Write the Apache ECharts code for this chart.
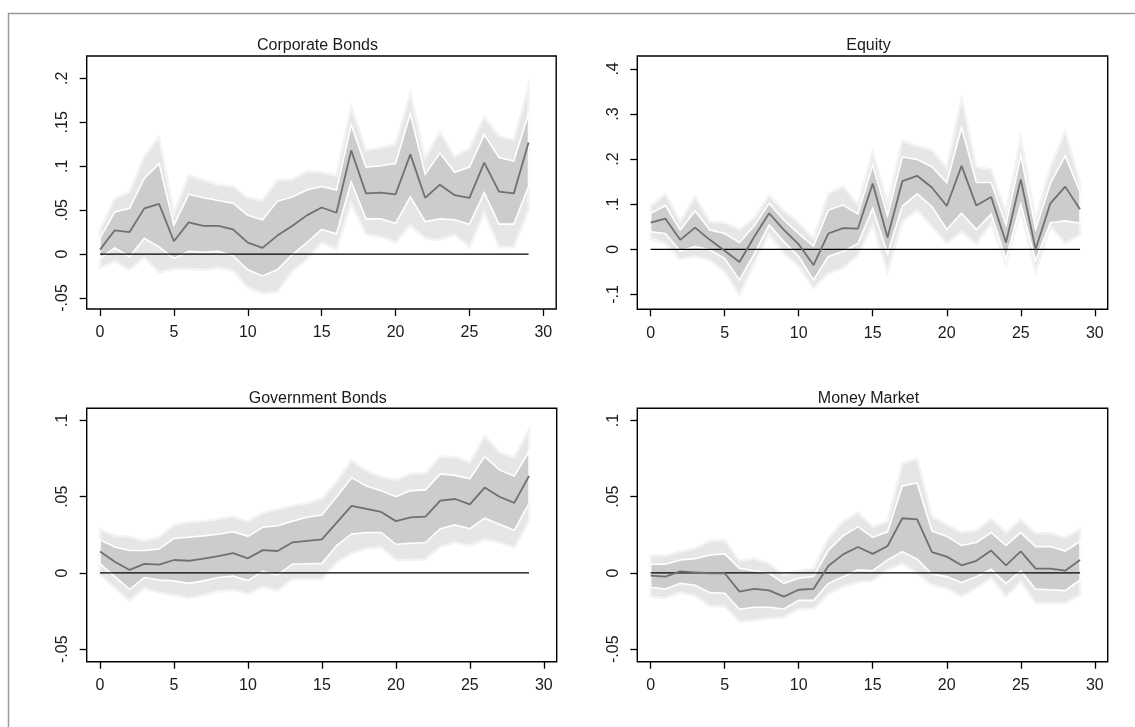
<!DOCTYPE html>
<html>
<head>
<meta charset="utf-8">
<title>Impulse responses by asset class</title>
<script src="https://cdn.jsdelivr.net/npm/echarts@6/dist/echarts.min.js"></script>
<style>
  html, body { margin: 0; padding: 0; background: #fff; }
  #chart { width: 1135px; height: 727px; }
</style>
</head>
<body>
<div id="chart"></div>
<script>
// Horizon (periods after the shock)
const horizon = [0,1,2,3,4,5,6,7,8,9,10,11,12,13,14,15,16,17,18,19,20,21,22,23,24,25,26,27,28,29];
const xTicks = [0, 5, 10, 15, 20, 25, 30];

// Corporate Bonds: point estimate, inner band (lo/hi), outer band (lo/hi)
const corpMean = [0.005,0.027,0.025,0.052,0.057,0.0145,0.036,0.032,0.032,0.028,0.013,0.007,0.021,0.032,0.044,0.053,0.047,0.118,0.069,0.070,0.068,0.1135,0.064,0.079,0.067,0.064,0.104,0.071,0.069,0.127];
const corpInHi = [0.018,0.048,0.052,0.086,0.103,0.033,0.068,0.064,0.061,0.058,0.044,0.039,0.060,0.065,0.073,0.077,0.073,0.147,0.099,0.1006,0.103,0.160,0.091,0.115,0.093,0.099,0.136,0.110,0.106,0.160];
const corpInLo = [-0.005,0.007,-0.003,0.018,0.008,-0.005,0.003,0.002,0.003,-0.002,-0.018,-0.025,-0.018,-0.001,0.013,0.028,0.023,0.082,0.040,0.040,0.035,0.065,0.037,0.040,0.039,0.034,0.070,0.034,0.034,0.077];
const corpOutHi = [0.027,0.063,0.071,0.111,0.133,0.046,0.090,0.084,0.079,0.077,0.064,0.061,0.084,0.085,0.094,0.093,0.089,0.168,0.118,0.121,0.125,0.183,0.109,0.139,0.111,0.120,0.156,0.134,0.130,0.191];
const corpOutLo = [-0.016,-0.008,-0.018,-0.004,-0.021,-0.017,-0.017,-0.018,-0.016,-0.019,-0.038,-0.045,-0.043,-0.020,-0.006,0.013,0.006,0.058,0.022,0.020,0.013,0.033,0.018,0.016,0.022,0.008,0.047,0.008,0.008,0.050];
const corpTicks = [-0.05, 0, 0.05, 0.1, 0.15, 0.2];

// Equity
const eqMean = [0.059,0.068,0.021,0.048,0.021,-0.003,-0.028,0.028,0.080,0.043,0.011,-0.035,0.035,0.047,0.046,0.146,0.026,0.151,0.163,0.137,0.096,0.185,0.097,0.116,0.015,0.155,0.000,0.102,0.139,0.089];
const eqInHi = [0.080,0.097,0.043,0.085,0.043,0.035,0.015,0.052,0.102,0.065,0.035,0.007,0.087,0.098,0.078,0.187,0.075,0.205,0.199,0.183,0.148,0.270,0.148,0.148,0.054,0.209,0.045,0.146,0.207,0.128];
const eqInLo = [0.039,0.035,-0.004,0.006,-0.001,-0.020,-0.068,-0.010,0.054,0.017,-0.016,-0.068,-0.016,-0.005,0.013,0.091,-0.010,0.096,0.123,0.095,0.044,0.080,0.044,0.078,-0.022,0.100,-0.025,0.059,0.063,0.058];
const eqOutHi = [0.096,0.123,0.061,0.117,0.061,0.059,0.044,0.069,0.120,0.086,0.058,0.024,0.123,0.140,0.098,0.217,0.100,0.241,0.229,0.220,0.180,0.335,0.183,0.177,0.080,0.248,0.065,0.183,0.261,0.146];
const eqOutLo = [0.024,0.013,-0.022,-0.016,-0.024,-0.050,-0.101,-0.031,0.033,-0.009,-0.038,-0.086,-0.053,-0.042,-0.013,0.054,-0.050,0.061,0.087,0.050,0.013,0.039,0.012,0.058,-0.033,0.087,-0.050,0.050,0.013,0.032];
const eqTicks = [-0.1, 0, 0.1, 0.2, 0.3, 0.4];

// Government Bonds
const govMean = [0.014,0.0074,0.002,0.006,0.0055,0.0085,0.008,0.0094,0.011,0.013,0.0096,0.015,0.0144,0.020,0.021,0.022,0.033,0.044,0.042,0.040,0.034,0.0365,0.037,0.0475,0.0485,0.045,0.056,0.050,0.046,0.0636];
const govInHi = [0.0217,0.017,0.0147,0.0147,0.0157,0.0227,0.0234,0.0243,0.0254,0.027,0.024,0.030,0.031,0.034,0.0365,0.038,0.050,0.0625,0.057,0.054,0.050,0.054,0.0545,0.065,0.064,0.0617,0.0763,0.0676,0.0636,0.0796];
const govInLo = [0.006,-0.0024,-0.0107,-0.003,-0.0046,-0.0052,-0.0068,-0.0052,-0.003,-0.002,-0.005,0.001,-0.0013,0.0057,0.006,0.0063,0.018,0.0256,0.0265,0.0265,0.0188,0.0195,0.020,0.029,0.0315,0.029,0.036,0.032,0.028,0.0457];
const govOutHi = [0.0287,0.0243,0.0238,0.0212,0.0234,0.0315,0.0335,0.034,0.0354,0.037,0.0337,0.0396,0.0418,0.044,0.0457,0.0488,0.060,0.074,0.067,0.063,0.061,0.065,0.0654,0.0763,0.076,0.0726,0.090,0.079,0.0757,0.094];
const govOutLo = [-0.0013,-0.0096,-0.0184,-0.010,-0.0129,-0.0144,-0.0166,-0.0144,-0.0122,-0.0112,-0.0138,-0.009,-0.0116,-0.0039,-0.0039,-0.004,0.007,0.0129,0.016,0.0168,0.0085,0.0085,0.009,0.0173,0.020,0.018,0.0217,0.020,0.0168,0.034];
const govTicks = [-0.05, 0, 0.05, 0.1];

// Money Market
const mmMean = [-0.0017,-0.0024,0.001,0.0004,-0.0002,-0.0002,-0.0122,-0.0105,-0.0114,-0.0155,-0.011,-0.0105,0.0046,0.0122,0.017,0.0125,0.0177,0.0359,0.0352,0.0136,0.0107,0.005,0.008,0.0147,0.005,0.0142,0.0028,0.0028,0.0015,0.0085];
const mmInHi = [0.0057,0.0057,0.0085,0.0094,0.0118,0.0125,0.003,0.0015,-0.0002,-0.0068,-0.0035,-0.0024,0.0147,0.0243,0.0304,0.0234,0.027,0.057,0.059,0.0275,0.024,0.018,0.020,0.0265,0.018,0.0265,0.0173,0.0173,0.0144,0.0206];
const mmInLo = [-0.0094,-0.0105,-0.0068,-0.008,-0.0129,-0.0133,-0.0238,-0.0225,-0.0225,-0.0236,-0.018,-0.018,-0.0068,-0.0024,0.002,0.0015,0.0085,0.014,0.009,-0.0007,-0.0024,-0.0063,-0.0024,0.0024,-0.0068,0.0013,-0.0105,-0.011,-0.0116,-0.0046];
const mmOutHi = [0.0114,0.0114,0.014,0.016,0.021,0.0217,0.0079,0.0096,0.0063,-0.0013,0.0013,0.003,0.0227,0.0337,0.0396,0.0304,0.0337,0.072,0.075,0.037,0.0315,0.0265,0.028,0.0356,0.0265,0.035,0.026,0.026,0.023,0.029];
const mmOutLo = [-0.0155,-0.0166,-0.0127,-0.0151,-0.0217,-0.022,-0.032,-0.031,-0.0297,-0.029,-0.0236,-0.0236,-0.0138,-0.009,-0.0061,-0.0052,0.002,0.0063,-0.0002,-0.0079,-0.010,-0.0155,-0.0096,-0.0035,-0.0155,-0.0057,-0.0195,-0.0199,-0.0199,-0.0144];
const mmTicks = [-0.05, 0, 0.05, 0.1];

const panelTitles = ['Corporate Bonds', 'Equity', 'Government Bonds', 'Money Market'];

const panels = [
  { title: panelTitles[0], mean: corpMean, inHi: corpInHi, inLo: corpInLo, outHi: corpOutHi, outLo: corpOutLo, ticks: corpTicks, yMin: -0.0626, yMax: 0.2255 },
  { title: panelTitles[1], mean: eqMean,   inHi: eqInHi,   inLo: eqInLo,   outHi: eqOutHi,   outLo: eqOutLo,   ticks: eqTicks,   yMin: -0.133,  yMax: 0.4286 },
  { title: panelTitles[2], mean: govMean,  inHi: govInHi,  inLo: govInLo,  outHi: govOutHi,  outLo: govOutLo,  ticks: govTicks,  yMin: -0.0582, yMax: 0.108 },
  { title: panelTitles[3], mean: mmMean,   inHi: mmInHi,   inLo: mmInLo,   outHi: mmOutHi,   outLo: mmOutLo,   ticks: mmTicks,   yMin: -0.0582, yMax: 0.108 }
];

// Plot-region boxes (pixels)
const boxes = [
  { left: 86.7,  top: 56,    width: 469.5, height: 253 },
  { left: 637.3, top: 56,    width: 470.4, height: 253.3 },
  { left: 86.7,  top: 408.3, width: 470,   height: 253.4 },
  { left: 637.3, top: 408.3, width: 470.4, height: 253.4 }
];

const FONT = '"Liberation Sans", Arial, Helvetica, sans-serif';
const TEXT = '#1a1a1a';

function fmtTick(v) {
  if (v === 0) return '0';
  let s = String(+v.toFixed(4));
  return s.replace(/^(-?)0\./, '$1.');
}

// Band polygon between two bound arrays, drawn through the axis scales
function bandSeries(idx, hi, lo, fill, stroke, width) {
  return {
    type: 'custom',
    xAxisIndex: idx, yAxisIndex: idx,
    clip: true,
    silent: true,
    data: [[horizon[0], lo[0]]],
    renderItem: function (params, api) {
      const pts = [];
      for (let i = 0; i < horizon.length; i++) pts.push(api.coord([horizon[i], hi[i]]));
      for (let i = horizon.length - 1; i >= 0; i--) pts.push(api.coord([horizon[i], lo[i]]));
      return {
        type: 'polygon',
        shape: { points: pts },
        style: { fill: fill, stroke: stroke, lineWidth: width, lineJoin: 'miter', miterLimit: 10 }
      };
    },
    z: 2
  };
}

const grid = [], xAxis = [], yAxis = [], series = [], title = [];

panels.forEach(function (p, k) {
  const b = boxes[k];
  grid.push({
    left: b.left, top: b.top, width: b.width, height: b.height,
    show: true, borderColor: '#000', borderWidth: 1.4, backgroundColor: '#fff',
    containLabel: false
  });
  title.push({
    text: p.title,
    left: b.left + b.width / 2 - 4,
    top: b.top - 18,
    textAlign: 'center',
    padding: 0,
    textStyle: { fontFamily: FONT, fontSize: 16, fontWeight: 'normal', color: TEXT }
  });
  xAxis.push({
    type: 'value', gridIndex: k,
    min: -0.9, max: 30.87,
    position: 'bottom',
    axisLine: { show: false, onZero: false },
    splitLine: { show: false },
    axisTick: { show: true, inside: false, customValues: xTicks, length: 7, lineStyle: { color: '#000', width: 1.3 } },
    axisLabel: { customValues: xTicks, margin: 16, fontFamily: FONT, fontSize: 16, color: TEXT }
  });
  yAxis.push({
    type: 'value', gridIndex: k,
    min: p.yMin, max: p.yMax,
    position: 'left',
    axisLine: { show: false, onZero: false },
    splitLine: { show: false },
    axisTick: { show: true, inside: false, customValues: p.ticks, length: 7, lineStyle: { color: '#000', width: 1.3 } },
    axisLabel: {
      customValues: p.ticks, rotate: 90, margin: 16,
      fontFamily: FONT, fontSize: 16, color: TEXT,
      formatter: fmtTick
    }
  });

  series.push(bandSeries(k, p.outHi, p.outLo, '#e6e6e6', '#f3f3f3', 2.5));
  series.push(bandSeries(k, p.inHi, p.inLo, '#cccccc', '#ffffff', 1.6));
  // zero reference line over the horizon
  series.push({
    type: 'line', xAxisIndex: k, yAxisIndex: k,
    data: [[horizon[0], 0], [horizon[horizon.length - 1], 0]],
    symbol: 'none', silent: true,
    lineStyle: { color: '#000', width: 1.2 },
    z: 3
  });
  series.push({
    type: 'line', xAxisIndex: k, yAxisIndex: k,
    data: horizon.map(function (h, i) { return [h, p.mean[i]]; }),
    symbol: 'none', silent: true,
    lineStyle: { color: '#707070', width: 1.8 },
    z: 4
  });
});

const chart = echarts.init(document.getElementById('chart'), null, { renderer: 'canvas' });
chart.setOption({
  animation: false,
  backgroundColor: '#fff',
  title: title,
  grid: grid,
  xAxis: xAxis,
  yAxis: yAxis,
  series: series,
  graphic: [{
    type: 'rect',
    shape: { x: 8.5, y: 13.5, width: 1160, height: 760 },
    style: { fill: 'none', stroke: '#9a9a9a', lineWidth: 1.5 },
    silent: true, z: 0
  }]
});
</script>
</body>
</html>
